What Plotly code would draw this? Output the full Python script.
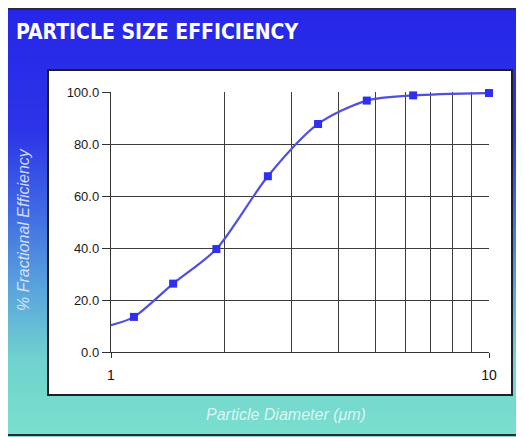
import plotly.graph_objects as go

# ---- data ----
diameter_um = [1.15, 1.46, 1.9, 2.6, 3.53, 4.75, 6.3, 10.0]
efficiency_pct = [13.5, 26.3, 39.6, 67.6, 87.7, 96.7, 98.7, 99.6]
curve_start_x = [1.0]
curve_start_y = [10.3]
y_tick_vals = [0, 20, 40, 60, 80, 100]
x_tick_vals = [1, 10]
x_minor_vals = [2, 3, 4, 5, 6, 7, 8, 9]

O = 8  # page body margin offset
W, H = 524 - O, 437 - O
L, R, T, B = 111 - O, 489 - O, 92 - O, 352 - O  # plot area in figure px


def px(x):
    return (x - O - L) / (R - L)


def py(y):
    return (B - (y - O)) / (B - T)


def lerp(c1, c2, t):
    return tuple(round(a + (b - a) * t) for a, b in zip(c1, c2))


stops = [
    (8, (38, 38, 232)),
    (130, (44, 52, 232)),
    (210, (64, 105, 228)),
    (290, (90, 165, 220)),
    (360, (112, 210, 206)),
    (437, (122, 224, 206)),
]


def grad(y):
    for (y1, c1), (y2, c2) in zip(stops[:-1], stops[1:]):
        if y1 <= y <= y2:
            return lerp(c1, c2, (y - y1) / (y2 - y1))
    return stops[-1][1]


shapes = []
step = 3
y = 9
while y < 437:
    c = grad(y + step / 2)
    shapes.append(dict(type="rect", xref="paper", yref="paper", layer="below",
                       x0=px(4), x1=px(522), y0=py(y), y1=py(min(y + step + 1, 437)),
                       fillcolor="rgb(%d,%d,%d)" % c, line=dict(width=0)))
    y += step
# panel border
shapes.append(dict(type="rect", xref="paper", yref="paper", layer="below",
                   x0=px(4), x1=px(522), y0=py(9), y1=py(435),
                   fillcolor="rgba(0,0,0,0)", line=dict(color="#2a2a3a", width=2)))
# white inner box
shapes.append(dict(type="rect", xref="paper", yref="paper", layer="below",
                   x0=px(48), x1=px(512), y0=py(70), y1=py(395),
                   fillcolor="white", line=dict(color="#1e1e28", width=2)))

fig = go.Figure()
fig.add_trace(go.Scatter(
    x=curve_start_x + diameter_um, y=curve_start_y + efficiency_pct,
    mode="lines", line=dict(color="#4f4fe0", width=2.2, shape="spline", smoothing=0.8),
    hoverinfo="skip", showlegend=False))
fig.add_trace(go.Scatter(
    x=diameter_um, y=efficiency_pct, mode="markers", cliponaxis=False,
    marker=dict(symbol="square", size=8, color="#2f2ff0"),
    showlegend=False))

grid_c = "#3c3c3c"
fig.update_layout(
    width=W, height=H,
    margin=dict(l=L, r=W - R, t=T, b=H - B),
    paper_bgcolor="white", plot_bgcolor="rgba(0,0,0,0)",
    shapes=shapes,
    font=dict(family="Liberation Sans, Arial, sans-serif", size=13, color="#1a1a1a"),
    xaxis=dict(type="log", range=[0, 1], tickmode="array", tickvals=x_tick_vals,
               ticktext=["1", "10"], ticks="outside", ticklen=5, tickcolor="#333",
               ticklabelstandoff=5,
               showgrid=True, gridcolor=grid_c, gridwidth=1.4,
               minor=dict(tickmode="array", tickvals=x_minor_vals, showgrid=True,
                          gridcolor=grid_c, gridwidth=1.4, ticks=""),
               showline=True, linecolor="#333", linewidth=1.4, zeroline=False,
               tickfont=dict(size=14, color="#111")),
    yaxis=dict(range=[0, 100], tickmode="array", tickvals=y_tick_vals, tickformat=".1f",
               ticks="outside", ticklen=8, tickcolor="#333",
               showgrid=True, gridcolor=grid_c, gridwidth=1.4,
               showline=True, linecolor="#333", linewidth=1.4, zeroline=False,
               tickfont=dict(size=13, color="#1a1a1a")),
    annotations=[
        dict(text="<b>PARTICLE SIZE EFFICIENCY</b>", xref="paper", yref="paper",
             x=px(14), y=py(32), xanchor="left", yanchor="middle", showarrow=False,
             font=dict(family="Liberation Sans Narrow, DejaVu Sans Condensed, Arial Narrow, sans-serif",
                       size=21, color="white")),
        dict(text="<i>% Fractional Efficiency</i>", xref="paper", yref="paper",
             x=px(23), y=py(230), textangle=-90, showarrow=False,
             xanchor="center", yanchor="middle",
             font=dict(family="Liberation Sans, Arial, sans-serif", size=16,
                       color="rgba(235,240,255,0.85)")),
        dict(text="<i>Particle Diameter (μm)</i>", xref="paper", yref="paper",
             x=px(286), y=py(414), showarrow=False, xanchor="center", yanchor="middle",
             font=dict(family="Liberation Sans, Arial, sans-serif", size=16,
                       color="rgba(240,250,250,0.85)")),
    ],
)

fig.write_html("out.html")
